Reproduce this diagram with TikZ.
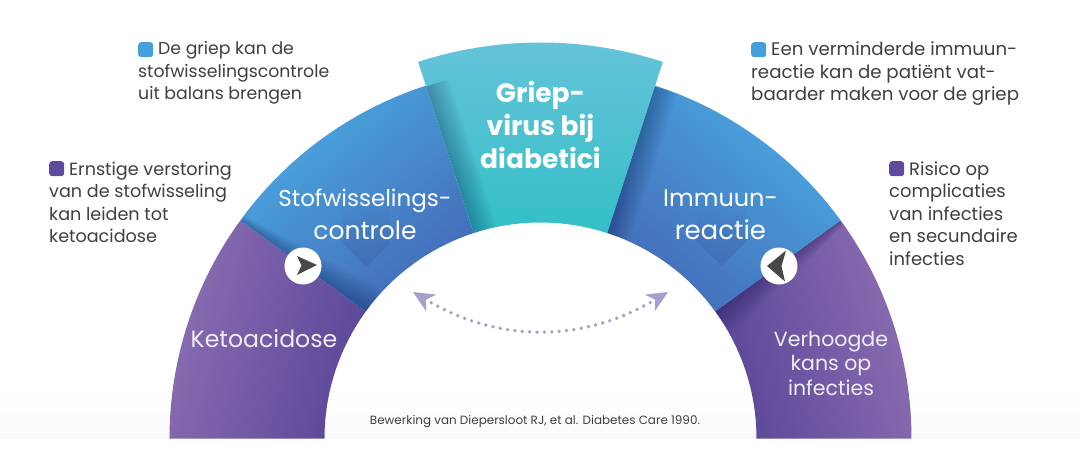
\documentclass[tikz,border=0pt]{standalone}
\usepackage{fontspec}
\setmainfont{Poppins}
\usepackage{xcolor}
\usetikzlibrary{arrows.meta,fadings,positioning}

\definecolor{notegray}{HTML}{3F3F41}
\definecolor{blueb}{HTML}{449FDB}
\definecolor{purpb}{HTML}{5F4A9E}
\definecolor{lilac}{HTML}{A7A0CC}
\definecolor{purplight}{HTML}{8C6EB2}
\definecolor{purpdark}{HTML}{5A4698}
\definecolor{bluelight}{HTML}{4AAAE2}
\definecolor{bluedark}{HTML}{446BB8}
\definecolor{teallight}{HTML}{67C3DA}
\definecolor{tealdark}{HTML}{33BFC6}

\tikzset{
    note/.style={anchor=north west, inner sep=0pt, align=left, text=notegray,
        font=\fontsize{18.2}{22.5}\selectfont},
    bullet/.style={anchor=north west, minimum size=15pt, inner sep=0pt, rounded corners=3pt},
    seclabel/.style={inner sep=0pt, align=center, text=white, anchor=base},
    knob/.style={circle, fill=white, minimum size=37pt, inner sep=0pt},
    dots/.style={lilac, line width=3.8pt, line cap=round, dash pattern=on 0pt off 7.4pt},
    foldtip/.style={fill=black!72}
}

\begin{document}
\begin{tikzpicture}[x=1pt, y=1pt]
    \useasboundingbox (-540.5,-17.5) rectangle (539.5,438.5);

    % grey floor behind the arch
    \path[top color=white, bottom color=black!2.5] (-540.5,0) rectangle (539.5,45);

    % outer sectors
    \path[left color=purplight, right color=purpdark, shading angle=75]
        (180:371) arc[start angle=180, end angle=144, radius=371]
        -- (144:216) arc[start angle=144, end angle=180, radius=216] -- cycle;
    \path[left color=purpdark, right color=purplight, shading angle=105]
        (0:371) arc[start angle=0, end angle=36, radius=371]
        -- (36:216) arc[start angle=36, end angle=0, radius=216] -- cycle;
    \path[left color=bluelight, right color=bluedark, shading angle=40]
        (144:371) arc[start angle=144, end angle=108, radius=371]
        -- (108:216) arc[start angle=108, end angle=144, radius=216] -- cycle;
    \path[left color=bluedark, right color=bluelight, shading angle=140]
        (36:371) arc[start angle=36, end angle=72, radius=371]
        -- (72:216) arc[start angle=72, end angle=36, radius=216] -- cycle;
    \path[top color=teallight, bottom color=tealdark]
        (108:396) arc[start angle=108, end angle=72, radius=396]
        -- (72:216) arc[start angle=72, end angle=108, radius=216] -- cycle;

    % faint arrows in the blue sectors
    \fill[bluedark!85!black, opacity=.4, path fading=north]
        (-197,236) -- (-151,236) -- (-151,195) -- (-174,171) -- (-197,195) -- cycle;
    \fill[bluedark!85!black, opacity=.4, path fading=north]
        (156,236) -- (206,236) -- (206,197) -- (181,173) -- (156,197) -- cycle;

    % shadow on the clockwise side of every edge
    \foreach \ang/\wout/\win in {144/6/28,108/24/24,72/24/24,36/6/28}
        \foreach \i in {1,...,12}
            \fill[black!80!blue, opacity=.022, rotate=\ang]
                (216,0) -- (370,0) -- (370,-\wout*\i/12) -- (216,-\win*\i/12) -- cycle;

    % sector labels
    \node[seclabel, font=\fontsize{26.5}{33}\selectfont\bfseries] (griep) at (0,269.5)
        {Griep-\\virus bij\\diabetici};
    \node[seclabel, font=\fontsize{23}{33}\selectfont] (stof) at (-175.5,199.5)
        {Stofwisselings-\\\fontsize{25}{33}\selectfont controle};
    \node[seclabel, font=\fontsize{24}{33}\selectfont] (immuun) at (180,199.5)
        {Immuun-\\\fontsize{26}{33}\selectfont reactie};
    \node[seclabel, font=\fontsize{23.6}{24}\selectfont, text=white!90!purpb] (keto) at (-276.5,91.5)
        {Ketoacidose};
    \node[seclabel, font=\fontsize{20.5}{24.5}\selectfont, text=white!90!purpb] (verhoogd) at (290.5,43.5)
        {Verhoogde\\kans op\\infecties};

    % knobs on the blue and purple edges
    \node[knob] (knobl) at (-237.5,172.5) {};
    \node[knob] (knobr) at (238.5,172.5) {};
    \fill[foldtip] (-243.5,182.5) -- (-223.5,173.5) -- (-243.5,163.5) -- (-239,173) -- cycle;
    \fill[foldtip] (245.5,188) -- (226.5,172.5) -- (244.5,157) -- (241,172.5) -- cycle;

    % dotted link under the arch
    \coordinate (linkl) at (-127.5,146.5);
    \coordinate (linkr) at (127.5,146.5);
    \draw[dots, {Stealth[length=21pt, width=19pt, inset=6pt]}-{Stealth[length=21pt, width=19pt, inset=6pt]}]
        (linkl) to[bend right=31] (linkr);

    % notes around the arch
    \node[bullet, fill=blueb] (griepmark) at (-402.5,396.5) {};
    \node[note, font=\fontsize{17.3}{22.5}\selectfont] (griepnote) at (-402.5,397)
        {\hspace*{20pt}De griep kan de\\stofwisselingscontrole\\uit balans brengen};
    \node[bullet, fill=purpb] (ernstmark) at (-491.5,277.5) {};
    \node[note, font=\fontsize{17.6}{22.5}\selectfont] (ernstnote) at (-491.5,277)
        {\hspace*{20pt}Ernstige verstoring\\van de stofwisseling\\kan leiden tot\\ketoacidose};
    \node[bullet, fill=blueb] (eenmark) at (210.5,396.5) {};
    \node[note] (eennote) at (210.5,397)
        {\hspace*{20pt}Een verminderde immuun-\\reactie kan de patiënt vat-\\baarder maken voor de griep};
    \node[bullet, fill=purpb] (risicomark) at (348.5,277.5) {};
    \node[note, font=\fontsize{18}{22.5}\selectfont] (risiconote) at (348.5,277)
        {\hspace*{20pt}Risico op\\complicaties\\van infecties\\en secundaire\\infecties};

    \node[inner sep=0pt, anchor=base, text=notegray, font=\fontsize{11.95}{14}\selectfont] (bron)
        at (-5.5,14.5) {Bewerking van Diepersloot RJ, et al. Diabetes Care 1990.};
\end{tikzpicture}
\end{document}
